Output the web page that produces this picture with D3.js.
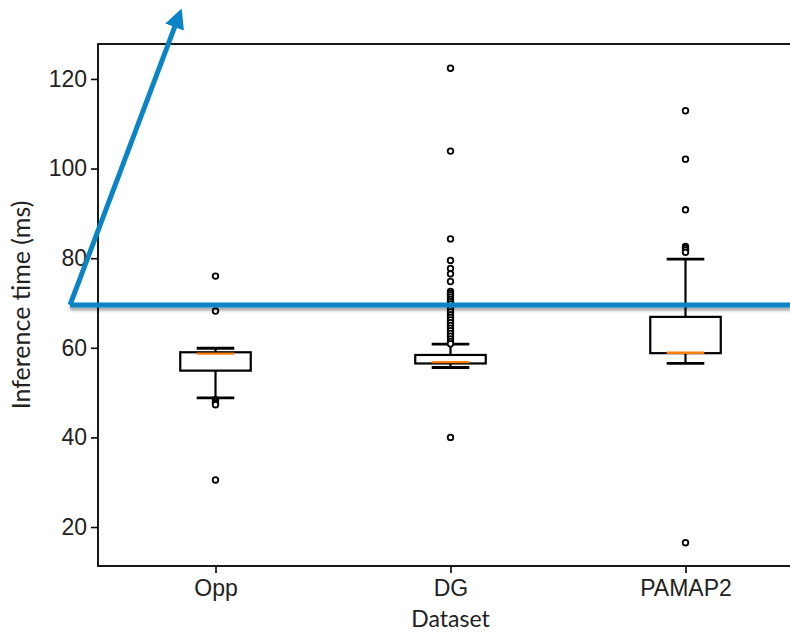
<!DOCTYPE html>
<html>
<head>
<meta charset="utf-8">
<script src="https://cdn.jsdelivr.net/npm/d3@7"></script>
<style>
  body { margin: 0; background: #fff; }
  svg { display: block; font-family: "Lato", "DejaVu Sans", sans-serif; }
  .tick text { font-size: 23px; fill: #222; }
  .tick line { stroke: #000; stroke-width: 1.6px; }
</style>
</head>
<body>
<svg id="chart" width="790" height="634"></svg>
<script>
// boxplot values (ms)
const categories = ["Opp", "DG", "PAMAP2"];
const q1 = [54.9, 56.5, 58.8];
const median = [58.7, 56.8, 58.9];
const q3 = [59.0, 58.4, 66.9];
const whiskerLow = [48.8, 55.6, 56.5];
const whiskerHigh = [59.9, 60.8, 79.8];
const fliers = [
  [76.0, 68.2, 48.4, 48.0, 47.6, 47.3, 30.5],
  [122.4, 103.9, 84.3, 79.5, 77.7, 76.5, 74.8, 72.6, 72.2, 71.8, 71.3, 70.8,
   70.3, 69.8, 69.2, 68.6, 68.0, 67.4, 66.8, 66.2, 65.6, 65.0, 64.4, 63.8,
   63.2, 62.6, 62.0, 61.4, 60.9, 40.0],
  [112.9, 102.1, 90.8, 82.6, 82.2, 81.8, 81.3, 16.5]
];
const yTicks = [20, 40, 60, 80, 100, 120];

// blue annotation, in data units (x: box position, y: ms)
const annoLine = [[0.381, 69.55], [3.6, 69.55]];
const annoArrow = [[0.381, 69.55], [0.8485, 134.7]];

const svg = d3.select("#chart");
const margin = { left: 98, top: 44, bottom: 566, right: 803 };

const x = d3.scaleLinear().domain([0.5, 3.5]).range([margin.left, margin.right]);
const y = d3.scaleLinear().domain([11.3, 127.8]).range([margin.bottom, margin.top]);

const boxW = 0.3, capW = 0.16;

const defs = svg.append("defs");
defs.append("filter").attr("id", "shadow")
  .attr("filterUnits", "userSpaceOnUse")
  .attr("x", 0).attr("y", 0).attr("width", 790).attr("height", 634)
  .append("feDropShadow")
  .attr("dx", 0).attr("dy", 3).attr("stdDeviation", 1.8)
  .attr("flood-color", "#000").attr("flood-opacity", 0.35);
defs.append("marker")
  .attr("id", "head")
  .attr("viewBox", "0 -5 10 10")
  .attr("refX", 7.5).attr("refY", 0)
  .attr("markerWidth", 4).attr("markerHeight", 4)
  .attr("markerUnits", "strokeWidth")
  .attr("orient", "auto")
  .append("path")
  .attr("d", "M0,-5L10,0L0,5Z")
  .attr("fill", "#0b84c6");

// axes
svg.append("g")
  .attr("transform", `translate(${margin.left},0)`)
  .call(d3.axisLeft(y).tickValues(yTicks).tickSize(7).tickPadding(4))
  .call(g => g.select(".domain").remove());

svg.append("g")
  .attr("transform", `translate(0,${margin.bottom})`)
  .call(d3.axisBottom(x).tickValues([1, 2, 3]).tickFormat((d, i) => categories[i]).tickSize(7).tickPadding(7))
  .call(g => g.select(".domain").remove());

// spines
svg.append("rect")
  .attr("x", margin.left).attr("y", margin.top)
  .attr("width", margin.right - margin.left).attr("height", margin.bottom - margin.top)
  .attr("fill", "none").attr("stroke", "#000").attr("stroke-width", 1.8);

// boxes
const boxes = svg.append("g").selectAll("g")
  .data(categories)
  .join("g");

boxes.append("line") // lower whisker
  .attr("x1", (d, i) => x(i + 1)).attr("x2", (d, i) => x(i + 1))
  .attr("y1", (d, i) => y(q1[i])).attr("y2", (d, i) => y(whiskerLow[i]))
  .attr("stroke", "#000").attr("stroke-width", 2.2);
boxes.append("line") // upper whisker
  .attr("x1", (d, i) => x(i + 1)).attr("x2", (d, i) => x(i + 1))
  .attr("y1", (d, i) => y(q3[i])).attr("y2", (d, i) => y(whiskerHigh[i]))
  .attr("stroke", "#000").attr("stroke-width", 2.2);
boxes.append("line") // lower cap
  .attr("x1", (d, i) => x(i + 1 - capW / 2)).attr("x2", (d, i) => x(i + 1 + capW / 2))
  .attr("y1", (d, i) => y(whiskerLow[i])).attr("y2", (d, i) => y(whiskerLow[i]))
  .attr("stroke", "#000").attr("stroke-width", 2.8);
boxes.append("line") // upper cap
  .attr("x1", (d, i) => x(i + 1 - capW / 2)).attr("x2", (d, i) => x(i + 1 + capW / 2))
  .attr("y1", (d, i) => y(whiskerHigh[i])).attr("y2", (d, i) => y(whiskerHigh[i]))
  .attr("stroke", "#000").attr("stroke-width", 2.8);
boxes.append("rect")
  .attr("x", (d, i) => x(i + 1 - boxW / 2))
  .attr("width", x(1 + boxW) - x(1))
  .attr("y", (d, i) => y(q3[i]))
  .attr("height", (d, i) => y(q1[i]) - y(q3[i]))
  .attr("fill", "#fff").attr("stroke", "#000").attr("stroke-width", 2.2);
boxes.append("line") // median
  .attr("x1", (d, i) => x(i + 1 - capW / 2)).attr("x2", (d, i) => x(i + 1 + capW / 2))
  .attr("y1", (d, i) => y(median[i])).attr("y2", (d, i) => y(median[i]))
  .attr("stroke", "#ff7f0e").attr("stroke-width", 2.4);

// fliers
boxes.each(function (d, i) {
  d3.select(this).selectAll("circle")
    .data(fliers[i])
    .join("circle")
    .attr("cx", x(i + 1))
    .attr("cy", v => y(v))
    .attr("r", 2.8)
    .attr("fill", "#fff")
    .attr("stroke", "#000")
    .attr("stroke-width", 1.8);
});

// axis labels
svg.append("text")
  .attr("x", x(2)).attr("y", 627)
  .attr("text-anchor", "middle")
  .attr("font-size", 23).attr("fill", "#222")
  .text("Dataset");
svg.append("text")
  .attr("transform", `translate(30,${(margin.top + margin.bottom) / 2}) rotate(-90)`)
  .attr("text-anchor", "middle")
  .attr("font-size", 25).attr("fill", "#222")
  .text("Inference time (ms)");

// blue annotation
const lineGen = d3.line().x(d => x(d[0])).y(d => y(d[1]));
svg.append("path")
  .attr("d", lineGen(annoLine))
  .attr("fill", "none").attr("stroke", "#0b84c6").attr("stroke-width", 5)
  .attr("filter", "url(#shadow)");
svg.append("path")
  .attr("d", lineGen(annoArrow))
  .attr("fill", "none").attr("stroke", "#0b84c6").attr("stroke-width", 5)
  .attr("marker-end", "url(#head)");
</script>
</body>
</html>
